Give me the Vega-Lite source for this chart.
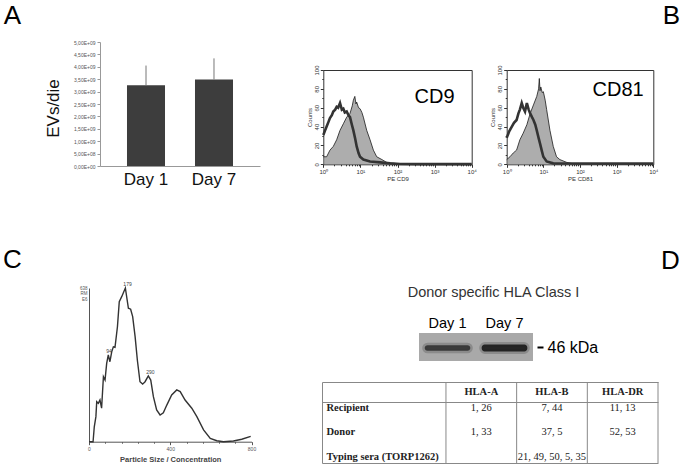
{
  "$schema": "https://vega.github.io/schema/vega-lite/v6.json",
  "width": 682,
  "height": 472,
  "autosize": {"type": "none"},
  "padding": 0,
  "background": "white",
  "config": {
    "font": "Liberation Sans",
    "view": {"stroke": null},
    "axis": {"grid": false, "labelFont": "Liberation Sans", "titleFont": "Liberation Sans"}
  },
  "datasets": {
    "evs": [
      {"day": "Day 1", "evs": 3260000000, "upper": 4050000000},
      {"day": "Day 7", "evs": 3490000000, "upper": 4340000000}
    ],
    "cd9_marker": [
      {"x": 1, "count": 8}, {"x": 1.23, "count": 8}, {"x": 1.51, "count": 15}, {"x": 1.86, "count": 19},
      {"x": 2.29, "count": 26}, {"x": 2.82, "count": 36}, {"x": 3.47, "count": 43}, {"x": 4.27, "count": 50},
      {"x": 5.25, "count": 54}, {"x": 6.03, "count": 62}, {"x": 6.46, "count": 68}, {"x": 7.08, "count": 72},
      {"x": 7.59, "count": 64}, {"x": 7.94, "count": 66}, {"x": 8.91, "count": 60}, {"x": 9.77, "count": 59},
      {"x": 10.96, "count": 55}, {"x": 12.02, "count": 50}, {"x": 14.79, "count": 36}, {"x": 18.2, "count": 26},
      {"x": 22.39, "count": 15}, {"x": 27.54, "count": 8}, {"x": 38.02, "count": 5}, {"x": 51.29, "count": 2},
      {"x": 79.43, "count": 1}, {"x": 117.5, "count": 0.5}, {"x": 199.5, "count": 0.3}, {"x": 398.1, "count": 0.5},
      {"x": 1000, "count": 0.2}, {"x": 3162, "count": 0.3}, {"x": 10000, "count": 0.2}
    ],
    "cd9_control": [
      {"x": 1, "count": 31}, {"x": 1.12, "count": 36}, {"x": 1.23, "count": 40}, {"x": 1.38, "count": 45},
      {"x": 1.51, "count": 49}, {"x": 1.7, "count": 52}, {"x": 1.86, "count": 56}, {"x": 2.09, "count": 58},
      {"x": 2.29, "count": 61}, {"x": 2.51, "count": 60}, {"x": 2.82, "count": 65}, {"x": 3.16, "count": 58},
      {"x": 3.47, "count": 59}, {"x": 3.8, "count": 55}, {"x": 4.27, "count": 56}, {"x": 4.79, "count": 52},
      {"x": 5.25, "count": 50}, {"x": 5.89, "count": 42}, {"x": 6.46, "count": 36}, {"x": 7.24, "count": 27},
      {"x": 7.94, "count": 19}, {"x": 8.91, "count": 12}, {"x": 9.77, "count": 8}, {"x": 12.02, "count": 5},
      {"x": 18.2, "count": 3}, {"x": 33.88, "count": 2}, {"x": 63.1, "count": 1}, {"x": 117.5, "count": 0.3},
      {"x": 316.2, "count": 0.2}, {"x": 1000, "count": 0.2}, {"x": 10000, "count": 0.2}
    ],
    "cd81_marker": [
      {"x": 1, "count": 5}, {"x": 1.23, "count": 8}, {"x": 1.51, "count": 12}, {"x": 1.86, "count": 15},
      {"x": 2.29, "count": 26}, {"x": 2.82, "count": 33}, {"x": 3.55, "count": 42}, {"x": 4.37, "count": 54},
      {"x": 5.37, "count": 63}, {"x": 6.61, "count": 72}, {"x": 7.41, "count": 80}, {"x": 7.76, "count": 91},
      {"x": 8.13, "count": 78}, {"x": 8.51, "count": 82}, {"x": 9.33, "count": 76}, {"x": 10, "count": 77},
      {"x": 11.22, "count": 68}, {"x": 12.3, "count": 58}, {"x": 15.14, "count": 36}, {"x": 18.62, "count": 19},
      {"x": 22.91, "count": 8}, {"x": 28.18, "count": 5}, {"x": 43.65, "count": 2}, {"x": 66.07, "count": 0.5},
      {"x": 158.5, "count": 0.3}, {"x": 1000, "count": 0.2}, {"x": 10000, "count": 0.2}
    ],
    "cd81_control": [
      {"x": 1, "count": 28}, {"x": 1.17, "count": 35}, {"x": 1.38, "count": 40}, {"x": 1.58, "count": 44},
      {"x": 1.86, "count": 47}, {"x": 2.09, "count": 54}, {"x": 2.29, "count": 58}, {"x": 2.57, "count": 65},
      {"x": 2.82, "count": 60}, {"x": 3.16, "count": 56}, {"x": 3.55, "count": 65}, {"x": 3.98, "count": 58},
      {"x": 4.37, "count": 54}, {"x": 4.9, "count": 50}, {"x": 5.37, "count": 47}, {"x": 6.03, "count": 42},
      {"x": 6.61, "count": 36}, {"x": 7.41, "count": 28}, {"x": 8.13, "count": 22}, {"x": 9.12, "count": 14},
      {"x": 10, "count": 8}, {"x": 12.3, "count": 3}, {"x": 18.6, "count": 1}, {"x": 39.8, "count": 0.8},
      {"x": 100, "count": 0.8}, {"x": 1000, "count": 0.8}, {"x": 10000, "count": 0.8}
    ],
    "cd9_label": [{"x": 1000, "y": 71, "label": "CD9"}],
    "cd81_label": [{"x": 1100, "y": 79, "label": "CD81"}],
    "nta": [
      {"size": 0, "conc": 0}, {"size": 20, "conc": 0}, {"size": 26, "conc": 0.62}, {"size": 34, "conc": 1.04},
      {"size": 38, "conc": 1.66}, {"size": 46, "conc": 1.59}, {"size": 54, "conc": 1.73}, {"size": 62, "conc": 1.39},
      {"size": 71, "conc": 2.7}, {"size": 79, "conc": 2.56}, {"size": 87, "conc": 3.25}, {"size": 95, "conc": 3.6},
      {"size": 103, "conc": 3.32}, {"size": 112, "conc": 3.74}, {"size": 120, "conc": 3.94}, {"size": 128, "conc": 3.92},
      {"size": 140, "conc": 4.77}, {"size": 149, "conc": 5.81}, {"size": 161, "conc": 6.02}, {"size": 179, "conc": 6.38},
      {"size": 194, "conc": 5.54}, {"size": 205, "conc": 5.5}, {"size": 215, "conc": 5.19}, {"size": 227, "conc": 4.36},
      {"size": 238, "conc": 3.39}, {"size": 251, "conc": 2.49}, {"size": 264, "conc": 2.39}, {"size": 276, "conc": 2.49},
      {"size": 292, "conc": 2.73}, {"size": 304, "conc": 2.56}, {"size": 317, "conc": 1.87}, {"size": 333, "conc": 1.32},
      {"size": 350, "conc": 1.11}, {"size": 366, "conc": 1.2}, {"size": 383, "conc": 1.52}, {"size": 407, "conc": 1.94},
      {"size": 432, "conc": 2.15}, {"size": 449, "conc": 2.08}, {"size": 473, "conc": 1.73}, {"size": 506, "conc": 1.39},
      {"size": 531, "conc": 1.04}, {"size": 564, "conc": 0.49}, {"size": 597, "conc": 0.14}, {"size": 629, "conc": 0.04},
      {"size": 662, "conc": 0}, {"size": 711, "conc": 0.03}, {"size": 752, "conc": 0.1}, {"size": 796, "conc": 0.22}
    ],
    "nta_peaks": [
      {"size": 95, "conc": 3.6, "label": "94"},
      {"size": 179, "conc": 6.38, "label": "179"},
      {"size": 292, "conc": 2.73, "label": "290"}
    ],
    "blot": [
      {"lane": "Day 1", "lo": 44.4, "hi": 46.8, "intensity": 0.75},
      {"lane": "Day 7", "lo": 44.1, "hi": 47.1, "intensity": 0.95}
    ],
    "hla": [
      {"row": "Recipient", "col": "HLA-A", "val": "1, 26"},
      {"row": "Recipient", "col": "HLA-B", "val": "7, 44"},
      {"row": "Recipient", "col": "HLA-DR", "val": "11, 13"},
      {"row": "Donor", "col": "HLA-A", "val": "1, 33"},
      {"row": "Donor", "col": "HLA-B", "val": "37, 5"},
      {"row": "Donor", "col": "HLA-DR", "val": "52, 53"},
      {"row": "Typing sera (TORP1262)", "col": "HLA-B", "val": "21, 49, 50, 5, 35"}
    ],
    "hla_cols": [{"col": "HLA-A"}, {"col": "HLA-B"}, {"col": "HLA-DR"}],
    "hla_last": [{"col": "HLA-DR"}]
  },
  "resolve": {
    "scale": {"x": "independent", "y": "independent"},
    "axis": {"x": "independent", "y": "independent"}
  },
  "layer": [
    {
      "data": {"name": "evs"},
      "layer": [
        {
          "mark": {"type": "bar", "color": "#3d3d3d"},
          "encoding": {
            "x": {
              "field": "day", "type": "nominal", "sort": null,
              "scale": {"type": "band", "range": [100, 260], "paddingInner": 0.441, "paddingOuter": 0.397},
              "axis": {
                "orient": "bottom", "offset": -306, "labelAngle": 0, "labelFontSize": 17, "labelColor": "#111",
                "labelPadding": 5, "ticks": false, "tickSize": 0, "domainColor": "#999",
                "title": "A", "titleFontSize": 26, "titleFontWeight": "normal", "titleColor": "#000",
                "titleX": 12, "titleY": -143, "titleAlign": "center", "titleBaseline": "alphabetic", "titleAngle": 0
              }
            },
            "y": {
              "field": "evs", "type": "quantitative",
              "scale": {"domain": [0, 5000000000], "range": [166, 42], "nice": false},
              "axis": {
                "orient": "left", "offset": -100,
                "values": [0, 500000000, 1000000000, 1500000000, 2000000000, 2500000000, 3000000000, 3500000000, 4000000000, 4500000000, 5000000000],
                "labelExpr": "datum.value == 0 ? '0,00E+00' : (datum.value < 1000000000 ? replace(format(datum.value / 100000000, '.2f'), '.', ',') + 'E+08' : replace(format(datum.value / 1000000000, '.2f'), '.', ',') + 'E+09')",
                "labelFontSize": 5, "labelColor": "#555", "labelOverlap": false, "labelPadding": 2,
                "tickSize": 3, "tickColor": "#999", "domainColor": "#999",
                "title": "EVs/die", "titleFontSize": 17, "titleFontWeight": "normal", "titleColor": "#111",
                "titleX": -47, "titleY": 108, "titleAngle": 270, "titleAlign": "center", "titleBaseline": "middle"
              }
            }
          }
        },
        {
          "mark": {"type": "rule", "color": "#777"},
          "encoding": {
            "x": {"field": "day", "type": "nominal"},
            "y": {"field": "evs", "type": "quantitative"},
            "y2": {"field": "upper"}
          }
        }
      ]
    },
    {
      "layer": [
        {
          "data": {"name": "cd9_marker"},
          "mark": {"type": "area", "color": "#8a8a8a", "line": {"color": "#1a1a1a", "strokeWidth": 0.8}},
          "encoding": {
            "x": {
              "field": "x", "type": "quantitative",
              "scale": {"type": "log", "domain": [1, 10000], "range": [323.3, 471.7], "nice": false},
              "axis": {
                "orient": "bottom", "offset": -307.7,
                "values": [1,2,3,4,5,6,7,8,9,10,20,30,40,50,60,70,80,90,100,200,300,400,500,600,700,800,900,1000,2000,3000,4000,5000,6000,7000,8000,9000,10000],
                "labelExpr": "datum.value == 1 ? '10⁰' : datum.value == 10 ? '10¹' : datum.value == 100 ? '10²' : datum.value == 1000 ? '10³' : datum.value == 10000 ? '10⁴' : ''",
                "labelOverlap": false, "labelFlush": false, "labelFontSize": 6, "labelColor": "#333", "labelPadding": 1,
                "tickSize": {"condition": {"test": "indexof([1,10,100,1000,10000], datum.value) >= 0", "value": 3}, "value": 1.5},
                "tickColor": "#333", "domainColor": "#333",
                "title": "PE CD9", "titleFontSize": 6, "titleFontWeight": "normal", "titleColor": "#333", "titlePadding": 1
              }
            },
            "y": {
              "field": "count", "type": "quantitative",
              "scale": {"domain": [0, 100], "range": [164.3, 70], "nice": false},
              "axis": {
                "orient": "left", "offset": -323.3,
                "values": [0,5,10,15,20,25,30,35,40,45,50,55,60,65,70,75,80,85,90,95,100],
                "labelExpr": "datum.value % 20 == 0 ? datum.label : ''",
                "labelAngle": 270, "labelAlign": "center", "labelBaseline": "bottom", "labelOverlap": false,
                "labelFontSize": 6, "labelColor": "#333", "labelPadding": 1,
                "tickSize": {"condition": {"test": "datum.value % 20 == 0", "value": 3}, "value": 1.5},
                "tickColor": "#333", "domainColor": "#333",
                "title": "Counts", "titleFontSize": 6, "titleFontWeight": "normal", "titleColor": "#333",
                "titleX": -14, "titleY": 117, "titleAngle": 270, "titleAlign": "center", "titleBaseline": "middle"
              }
            }
          }
        },
        {
          "data": {"name": "cd9_control"},
          "mark": {"type": "line", "color": "#333", "strokeWidth": 2.6},
          "encoding": {
            "x": {"field": "x", "type": "quantitative"},
            "y": {"field": "count", "type": "quantitative"}
          }
        }
      ]
    },
    {
      "data": {"name": "cd9_label"},
      "mark": {"type": "text", "fontSize": 20, "color": "#000", "align": "center", "baseline": "middle"},
      "encoding": {
        "x": {
          "field": "x", "type": "quantitative",
          "scale": {"type": "log", "domain": [1, 10000], "range": [323.3, 471.7], "nice": false},
          "axis": {"orient": "top", "offset": -70, "labels": false, "ticks": false, "tickSize": 0, "domainColor": "#333", "title": null}
        },
        "y": {
          "field": "y", "type": "quantitative",
          "scale": {"domain": [0, 100], "range": [164.3, 70], "nice": false},
          "axis": {"orient": "right", "offset": -210.3, "labels": false, "ticks": false, "tickSize": 0, "domainColor": "#333", "title": null}
        },
        "text": {"field": "label"}
      }
    },
    {
      "layer": [
        {
          "data": {"name": "cd81_marker"},
          "mark": {"type": "area", "color": "#8a8a8a", "line": {"color": "#1a1a1a", "strokeWidth": 0.8}},
          "encoding": {
            "x": {
              "field": "x", "type": "quantitative",
              "scale": {"type": "log", "domain": [1, 10000], "range": [506.7, 653.3], "nice": false},
              "axis": {
                "orient": "bottom", "offset": -307.7,
                "values": [1,2,3,4,5,6,7,8,9,10,20,30,40,50,60,70,80,90,100,200,300,400,500,600,700,800,900,1000,2000,3000,4000,5000,6000,7000,8000,9000,10000],
                "labelExpr": "datum.value == 1 ? '10⁰' : datum.value == 10 ? '10¹' : datum.value == 100 ? '10²' : datum.value == 1000 ? '10³' : datum.value == 10000 ? '10⁴' : ''",
                "labelOverlap": false, "labelFlush": false, "labelFontSize": 6, "labelColor": "#333", "labelPadding": 1,
                "tickSize": {"condition": {"test": "indexof([1,10,100,1000,10000], datum.value) >= 0", "value": 3}, "value": 1.5},
                "tickColor": "#333", "domainColor": "#333",
                "title": "PE CD81", "titleFontSize": 6, "titleFontWeight": "normal", "titleColor": "#333", "titlePadding": 1
              }
            },
            "y": {
              "field": "count", "type": "quantitative",
              "scale": {"domain": [0, 100], "range": [164.3, 70], "nice": false},
              "axis": {
                "orient": "left", "offset": -506.7,
                "values": [0,5,10,15,20,25,30,35,40,45,50,55,60,65,70,75,80,85,90,95,100],
                "labelExpr": "datum.value % 20 == 0 ? datum.label : ''",
                "labelAngle": 270, "labelAlign": "center", "labelBaseline": "bottom", "labelOverlap": false,
                "labelFontSize": 6, "labelColor": "#333", "labelPadding": 1,
                "tickSize": {"condition": {"test": "datum.value % 20 == 0", "value": 3}, "value": 1.5},
                "tickColor": "#333", "domainColor": "#333",
                "title": "Counts", "titleFontSize": 6, "titleFontWeight": "normal", "titleColor": "#333",
                "titleX": -14, "titleY": 117, "titleAngle": 270, "titleAlign": "center", "titleBaseline": "middle"
              }
            }
          }
        },
        {
          "data": {"name": "cd81_control"},
          "mark": {"type": "line", "color": "#333", "strokeWidth": 2.6},
          "encoding": {
            "x": {"field": "x", "type": "quantitative"},
            "y": {"field": "count", "type": "quantitative"}
          }
        }
      ]
    },
    {
      "data": {"name": "cd81_label"},
      "mark": {"type": "text", "fontSize": 20, "color": "#000", "align": "center", "baseline": "middle"},
      "encoding": {
        "x": {
          "field": "x", "type": "quantitative",
          "scale": {"type": "log", "domain": [1, 10000], "range": [506.7, 653.3], "nice": false},
          "axis": {
            "orient": "top", "offset": -70, "labels": false, "ticks": false, "tickSize": 0, "domainColor": "#333",
            "title": "B", "titleFontSize": 26, "titleFontWeight": "normal", "titleColor": "#000",
            "titleX": 671, "titleY": -47, "titleAlign": "center", "titleBaseline": "alphabetic", "titleAngle": 0
          }
        },
        "y": {
          "field": "y", "type": "quantitative",
          "scale": {"domain": [0, 100], "range": [164.3, 70], "nice": false},
          "axis": {"orient": "right", "offset": -28.7, "labels": false, "ticks": false, "tickSize": 0, "domainColor": "#333", "title": null}
        },
        "text": {"field": "label"}
      }
    },
    {
      "layer": [
        {
          "data": {"name": "nta"},
          "mark": {"type": "line", "color": "#333", "strokeWidth": 1.4},
          "encoding": {
            "x": {
              "field": "size", "type": "quantitative",
              "scale": {"domain": [0, 800], "range": [89, 251.5], "nice": false},
              "axis": {
                "orient": "bottom", "offset": -30.3,
                "values": [0,20,40,60,80,100,120,140,160,180,200,220,240,260,280,300,320,340,360,380,400,420,440,460,480,500,520,540,560,580,600,620,640,660,680,700,720,740,760,780,800],
                "labelExpr": "datum.value % 100 == 0 ? datum.label : ''",
                "labelOverlap": false, "labelFlush": false, "labelFontSize": 5, "labelColor": "#555", "labelPadding": 2,
                "tickSize": {"condition": {"test": "datum.value % 100 == 0", "value": 3}, "value": 1.5},
                "tickColor": "#555", "domainColor": "#555",
                "title": "Particle Size / Concentration", "titleFontSize": 7.5, "titleFontWeight": "bold",
                "titleColor": "#444", "titlePadding": 4
              }
            },
            "y": {
              "field": "conc", "type": "quantitative",
              "scale": {"domain": [0, 6.38], "range": [441.7, 288], "nice": false},
              "axis": {
                "orient": "left", "offset": -89, "values": [6.38],
                "labelExpr": "['638', 'RM', 'E6']",
                "labelFontSize": 4.5, "labelColor": "#555", "labelLineHeight": 5.5, "labelBaseline": "middle", "labelPadding": 2,
                "ticks": false, "tickSize": 0, "domainColor": "#555",
                "title": "C", "titleFontSize": 26, "titleFontWeight": "normal", "titleColor": "#000",
                "titleX": -77, "titleY": 267, "titleAngle": 0, "titleAlign": "center", "titleBaseline": "alphabetic"
              }
            }
          }
        },
        {
          "data": {"name": "nta_peaks"},
          "mark": {"type": "text", "fontSize": 5, "color": "#444", "align": "left", "baseline": "bottom", "dx": -2, "dy": -1},
          "encoding": {
            "x": {"field": "size", "type": "quantitative"},
            "y": {"field": "conc", "type": "quantitative"},
            "text": {"field": "label"}
          }
        }
      ]
    },
    {
      "data": {"name": "blot"},
      "layer": [
        {
          "mark": {"type": "rect", "color": "#a9a9a9"},
          "encoding": {
            "x": {
              "field": "lane", "type": "nominal", "sort": null,
              "scale": {"type": "band", "range": [419, 533], "paddingInner": 0, "paddingOuter": 0},
              "axis": {
                "orient": "top", "offset": -333, "labelAngle": 0, "labelFontSize": 14.5, "labelColor": "#000",
                "labelPadding": 3, "ticks": false, "tickSize": 0, "domain": false,
                "title": "Donor specific HLA Class I", "titleFontSize": 14.5, "titleFontWeight": "normal", "titleColor": "#333",
                "titleX": 493, "titleY": -41, "titleAlign": "center", "titleBaseline": "middle"
              }
            },
            "y": {
              "datum": 40, "type": "quantitative",
              "scale": {"domain": [40, 52], "range": [361, 333], "nice": false, "zero": false},
              "axis": {
                "orient": "right", "offset": -145, "values": [46], "labelExpr": "'46 kDa'",
                "labelFontSize": 16, "labelColor": "#000", "labelPadding": 4,
                "tickSize": 6, "tickWidth": 2, "tickColor": "#000", "domain": false,
                "title": "D", "titleFontSize": 26, "titleFontWeight": "normal", "titleColor": "#000",
                "titleX": 133, "titleY": 268, "titleAngle": 0, "titleAlign": "center", "titleBaseline": "alphabetic"
              }
            },
            "y2": {"datum": 52}
          }
        },
        {
          "mark": {"type": "bar", "width": {"band": 0.8}, "cornerRadius": 4, "fillOpacity": 0, "stroke": "#222", "strokeWidth": 5, "strokeOpacity": 0.22},
          "encoding": {
            "x": {"field": "lane", "type": "nominal"},
            "y": {"field": "lo", "type": "quantitative"},
            "y2": {"field": "hi"}
          }
        },
        {
          "mark": {"type": "bar", "color": "#1e1e1e", "width": {"band": 0.8}, "cornerRadius": 3},
          "encoding": {
            "x": {"field": "lane", "type": "nominal"},
            "y": {"field": "lo", "type": "quantitative"},
            "y2": {"field": "hi"},
            "opacity": {"field": "intensity", "type": "quantitative", "scale": {"domain": [0, 1], "range": [0, 1]}, "legend": null}
          }
        }
      ]
    },
    {
      "data": {"name": "hla"},
      "mark": {"type": "text", "font": "Liberation Serif", "fontSize": 10.5, "color": "#222"},
      "encoding": {
        "x": {
          "field": "col", "type": "nominal",
          "scale": {"type": "band", "domain": ["HLA-A", "HLA-B", "HLA-DR"], "range": [322, 658], "paddingInner": 0, "paddingOuter": 0.877, "align": 1},
          "axis": {
            "orient": "top", "offset": -382, "ticks": false, "tickSize": 0, "labelAngle": 0,
            "labelFont": "Liberation Serif", "labelFontWeight": "bold", "labelFontSize": 10.5, "labelColor": "#222",
            "labelBaseline": "middle", "labelPadding": -9, "domainColor": "#888", "title": null
          }
        },
        "y": {
          "field": "row", "type": "nominal",
          "scale": {"type": "band", "domain": ["hdr", "Recipient", "Donor", "Typing sera (TORP1262)"], "range": [371, 469], "paddingInner": 0, "paddingOuter": 0},
          "axis": {
            "orient": "left", "offset": -322, "ticks": false, "tickSize": 0, "domain": false,
            "labelExpr": "datum.value == 'hdr' ? '' : datum.value",
            "labelAlign": "left", "labelPadding": -4, "labelFont": "Liberation Serif", "labelFontWeight": "bold",
            "labelFontSize": 10.5, "labelColor": "#222", "title": null
          }
        },
        "text": {"field": "val"}
      }
    },
    {
      "data": {"name": "hla_cols"},
      "mark": {"type": "rule", "color": "#888"},
      "encoding": {
        "x": {
          "field": "col", "type": "nominal", "bandPosition": 0,
          "scale": {"type": "band", "domain": ["HLA-A", "HLA-B", "HLA-DR"], "range": [322, 658], "paddingInner": 0, "paddingOuter": 0.877, "align": 1},
          "axis": {"orient": "bottom", "offset": -9, "labels": false, "ticks": false, "tickSize": 0, "domainColor": "#888", "title": null}
        },
        "y": {
          "datum": 0, "type": "quantitative",
          "scale": {"domain": [0, 4], "range": [382, 463], "nice": false, "zero": false},
          "axis": {"orient": "left", "offset": -322, "labels": false, "ticks": false, "tickSize": 0, "domainColor": "#888", "title": null}
        },
        "y2": {"datum": 4}
      }
    },
    {
      "data": {"name": "hla_last"},
      "mark": {"type": "rule", "color": "#888"},
      "encoding": {
        "x": {
          "field": "col", "type": "nominal", "bandPosition": 1,
          "scale": {"type": "band", "domain": ["HLA-A", "HLA-B", "HLA-DR"], "range": [322, 658], "paddingInner": 0, "paddingOuter": 0.877, "align": 1},
          "axis": {"orient": "bottom", "offset": -70, "labels": false, "ticks": false, "tickSize": 0, "domainColor": "#888", "title": null}
        },
        "y": {"datum": 0, "type": "quantitative", "scale": {"domain": [0, 4], "range": [382, 463], "nice": false, "zero": false}, "axis": null},
        "y2": {"datum": 4}
      }
    }
  ]
}
